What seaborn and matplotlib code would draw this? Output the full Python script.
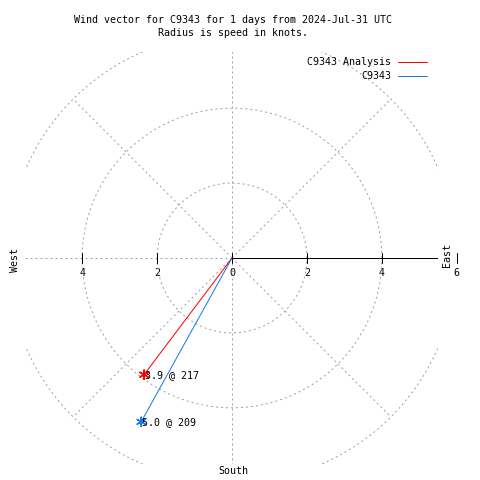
import numpy as np
import matplotlib
matplotlib.use("Agg")
import matplotlib.pyplot as plt
import seaborn as sns
import pandas as pd

# wind vectors: speed in knots, direction in degrees
SERIES = ["C9343 Analysis", "C9343"]
SPEED = [3.9, 5.0]
DIRECTION = [217, 209]
COLORS = ["#ff0000", "#1a78e6"]

RINGS = [2, 4, 6]
SPOKES = [0, 45, 135, 180, 225, 270, 315]
TICKS = [-4, -2, 0, 2, 4, 6]
TICK_LABELS = ["4", "2", "0", "2", "4", "6"]

TITLE_LINES = ["Wind vector for C9343 for 1 days from 2024-Jul-31 UTC",
               "Radius is speed in knots."]
FONT = "DejaVu Sans Mono"
FS = 7.2
GRID = "#a0a0a0"
DASH = (0, (2, 3))
LW = 0.72

sns.set_style("white")
plt.rcParams["font.family"] = [FONT]
plt.rcParams["text.color"] = "black"

rows = []
for name, s, d in zip(SERIES, SPEED, DIRECTION):
    rad = np.deg2rad(d)
    rows.append({"series": name, "x": 0.0, "y": 0.0})
    rows.append({"series": name, "x": s * np.sin(rad), "y": s * np.cos(rad)})
df = pd.DataFrame(rows)
ends = df.iloc[1::2].reset_index(drop=True)
ends["speed"] = SPEED
ends["dir"] = DIRECTION

fig = plt.figure(figsize=(4.8, 4.8), dpi=100)
ax = fig.add_axes([26 / 480, 16 / 480, 412 / 480, 412 / 480])
ax.set_xlim(-5.5, 5.5)
ax.set_ylim(-5.5, 5.5)
ax.set_aspect("equal")
ax.axis("off")

# polar grid
t = np.linspace(0, 2 * np.pi, 721)
for r in RINGS:
    ax.plot(r * np.cos(t), r * np.sin(t), color=GRID, lw=LW, ls=DASH, zorder=1)
for a in SPOKES:
    rad = np.deg2rad(a)
    ax.plot([0, 6 * np.sin(rad)], [0, 6 * np.cos(rad)], color=GRID, lw=LW, ls=DASH, zorder=1)

# radial axis towards east
ax.plot([0, 6], [0, 0], color="black", lw=LW, zorder=2)
for v, lab in zip(TICKS, TICK_LABELS):
    ax.plot([v, v], [-0.13, 0.13], color="black", lw=LW, clip_on=False, zorder=2)
    ax.text(v, -0.40, lab, ha="center", va="center", fontsize=FS, clip_on=False, zorder=0)

sns.lineplot(data=df, x="x", y="y", hue="series", palette=COLORS, sort=False,
             estimator=None, lw=LW, ax=ax, zorder=3)
sns.scatterplot(data=ends, x="x", y="y", hue="series", palette=COLORS, marker=(6, 2, 0),
                s=45, linewidth=1, legend=False, ax=ax, zorder=4)
for _, row in ends.iterrows():
    ax.annotate(f"{row['speed']:.1f} @ {row['dir']}", (row["x"], row["y"]),
                xytext=(1, 0), textcoords="offset pixels", ha="left", va="center",
                fontsize=FS, zorder=5)

ax.set_xlabel("")
ax.set_ylabel("")
ax.legend(loc="upper right", bbox_to_anchor=(427 / 480, 1 - 57 / 480),
          bbox_transform=fig.transFigure, frameon=False, markerfirst=False,
          fontsize=FS, handlelength=2.9, handletextpad=0.7, labelspacing=0.42,
          borderpad=0, borderaxespad=0)

fig.text(233 / 480, 1 - 20 / 480, TITLE_LINES[0], ha="center", va="center", fontsize=FS)
fig.text(233 / 480, 1 - 33 / 480, TITLE_LINES[1], ha="center", va="center", fontsize=FS)
fig.text(233 / 480, 1 - 471 / 480, "South", ha="center", va="center", fontsize=FS)
fig.text(15 / 480, 1 - 260 / 480, "West", ha="center", va="center", fontsize=FS, rotation=90)
fig.text(447 / 480, 1 - 255 / 480, "East", ha="center", va="center", fontsize=FS, rotation=90)

fig.savefig("out.png", dpi=100)
